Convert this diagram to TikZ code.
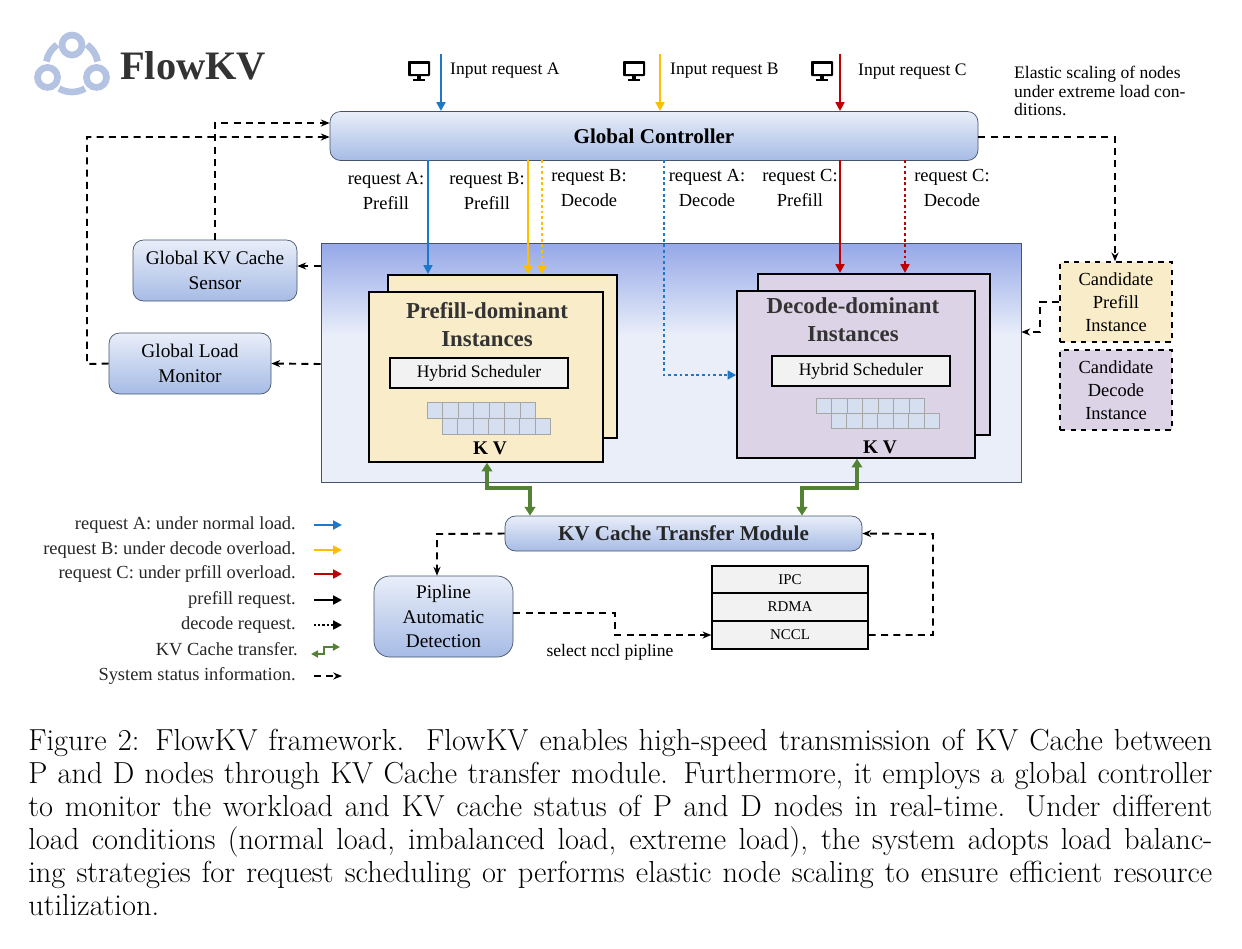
\documentclass[tikz,border=0pt]{standalone}
\usepackage{fontspec}
\setmainfont{Liberation Serif}
\newfontfamily\capfont{Latin Modern Roman}
\usetikzlibrary{arrows.meta,calc}
\definecolor{bA}{HTML}{1F77C8}
\definecolor{yB}{HTML}{FFBF00}
\definecolor{rC}{HTML}{C00000}
\definecolor{gK}{HTML}{548235}
\definecolor{cream}{HTML}{F9ECC8}
\definecolor{lav}{HTML}{DCD3E6}
\definecolor{bord}{HTML}{44546A}
\definecolor{gl}{HTML}{E9EEF9}
\definecolor{gd}{HTML}{A6BBE5}
\definecolor{cellc}{HTML}{D6DFF0}
\definecolor{logoc}{HTML}{B4C3E2}
\tikzset{
 x=0.02cm,y=-0.02cm,
 every node/.style={font=\fontsize{10}{12}\selectfont},
 grad/.style={draw=bord,rounded corners=6pt,top color=gl,bottom color=gd,align=center,inner sep=0pt},
 inst/.style={draw=black,thick,inner sep=0pt},
 hs/.style={draw=black,thick,fill=gray!10,inner sep=0pt},
 cell/.style={draw=gray!70,fill=cellc,minimum width=15.5*0.02cm,minimum height=16*0.02cm,inner sep=0pt},
 req/.style={line width=1.6pt,-{Triangle[length=5pt,width=5pt]}},
 dreq/.style={line width=1.6pt,dash pattern=on 1.6pt off 1.6pt,-{Triangle[length=5pt,width=5pt]}},
 stat/.style={line width=1.1pt,dash pattern=on 4pt off 3pt,-{Stealth[length=5pt,width=4pt]}},
 kv/.style={line width=1.8pt,draw=gK,{Triangle[length=5pt,width=6pt]}-{Triangle[length=5pt,width=6pt]}},
 lbl/.style={align=center,font=\fontsize{10.5}{14}\selectfont},
 cand/.style={draw=black,dashed,thick,inner sep=0pt,align=center,font=\fontsize{10.5}{13}\selectfont},
 stack/.style={draw=black,thick,fill=gray!10,inner sep=0pt,font=\fontsize{8.5}{10}\selectfont},
 legt/.style={anchor=east,text=black!85,font=\fontsize{10.5}{12}\selectfont},
}
\newcommand{\monitor}[1]{%
 \fill[black,rounded corners=0.5pt] ($(#1)+(-11,-9)$) rectangle ($(#1)+(11,6)$);
 \fill[white] ($(#1)+(-8.5,-6.5)$) rectangle ($(#1)+(8.5,3.5)$);
 \fill[black] ($(#1)+(-2,6)$) rectangle ($(#1)+(2,9)$);
 \fill[black] ($(#1)+(-6,9)$) rectangle ($(#1)+(6,11)$);}
\begin{document}
\begin{tikzpicture}
\useasboundingbox (0,0) rectangle (1242,948);
% logo
\begin{scope}[draw=logoc,line width=3.8pt]
\coordinate (lc) at (72,66);
\draw ($(lc)+(-90:21)$) circle (10);
\draw ($(lc)+(155:27)$) circle (10);
\draw ($(lc)+(25:27)$) circle (10);
\draw ($(lc)+(-125:26)$) arc (-125:-170:26);
\draw ($(lc)+(-10:26)$) arc (-10:-55:26);
\draw ($(lc)+(60:26)$) arc (60:120:26);
\end{scope}
\node[font=\bfseries\fontsize{23}{26}\selectfont,text=black!80,anchor=west] (logo) at (114,66) {FlowKV};

% controller
\node[grad,minimum width=648*0.02cm,minimum height=49*0.02cm,font=\bfseries\fontsize{12}{14}\selectfont] (gc) at (654,136) {Global Controller};

% input
\coordinate (iA) at (441,54); \coordinate (iB) at (660,54); \coordinate (iC) at (840,54);
\draw[req,bA] (iA) -- (441,111);
\draw[req,yB] (iB) -- (660,111);
\draw[req,rC] (iC) -- (840,111);
\monitor{419,70} \monitor{634,70} \monitor{822,70}
\node[anchor=west] (tA) at (444,71) {Input request A};
\node[anchor=west] (tB) at (664,71) {Input request B};
\node[anchor=west] (tC) at (852,72) {Input request C};
\node[anchor=north west,align=left,font=\fontsize{10}{10.5}\selectfont] (el) at (1008,60) {Elastic scaling of nodes\\under extreme load con-\\ditions.};

% container
\node[draw=bord,fill=gl,minimum width=700*0.02cm,minimum height=239*0.02cm,inner sep=0pt] (cont) at (671,362.5) {};
\shade[top color=gd!90!blue,bottom color=gl] (321.5,243.5) rectangle (1020.5,335);
\draw[bord] (321,243) rectangle (1021,482);

% prefill instances
\node[inst,fill=cream,minimum width=229*0.02cm,minimum height=163*0.02cm] (pb) at (502.5,356.5) {};
\node[inst,fill=cream,minimum width=234*0.02cm,minimum height=170*0.02cm] (pf) at (486,377) {};
\node[font=\bfseries\fontsize{13}{16}\selectfont,text=black!80,align=center] (pt) at (487,325) {Prefill-dominant\\Instances};
\node[hs,minimum width=178*0.02cm,minimum height=30*0.02cm] (phs) at (479,373) {Hybrid Scheduler};
\foreach \i in {0,...,6}{
 \node[cell] (pa\i) at (435+15.5*\i,410) {};
 \node[cell] (pc\i) at (450+15.5*\i,426) {};}
\node[font=\bfseries\fontsize{11}{13}\selectfont] (pkv) at (490,448) {K V};

% decode instances
\node[inst,fill=lav,minimum width=232*0.02cm,minimum height=161*0.02cm] (db) at (874,354.5) {};
\node[inst,fill=lav,minimum width=238*0.02cm,minimum height=167*0.02cm] (df) at (856,374.5) {};
\node[font=\bfseries\fontsize{13}{16}\selectfont,text=black!80,align=center] (dt) at (853,320) {Decode-dominant\\Instances};
\node[hs,minimum width=178*0.02cm,minimum height=30*0.02cm] (dhs) at (861,371) {Hybrid Scheduler};
\foreach \i in {0,...,6}{
 \node[cell,minimum height=15*0.02cm] (da\i) at (824+15.5*\i,405.5) {};
 \node[cell,minimum height=15*0.02cm] (dc\i) at (839+15.5*\i,420.5) {};}
\node[font=\bfseries\fontsize{11}{13}\selectfont] (dkv) at (880,447) {K V};

% request arrows
\draw[req,bA] (428,160) -- (428,274);
\draw[req,yB] (528,160) -- (528,274);
\draw[dreq,yB] (542,160) -- (542,274);
\draw[dreq,bA] (664,160) -- (664,375) -- (df.west|-664,375);
\draw[req,rC] (840,160) -- (840,273);
\draw[dreq,rC] (905,160) -- (905,273);
\node[lbl] (l1) at (386,191) {request A:\\Prefill};
\node[lbl] (l2) at (487,191) {request B:\\Prefill};
\node[lbl] (l3) at (589,188) {request B:\\Decode};
\node[lbl] (l4) at (707,188) {request A:\\Decode};
\node[lbl] (l5) at (800,188) {request C:\\Prefill};
\node[lbl] (l6) at (952,188) {request C:\\Decode};

% sensors
\node[grad,minimum width=164*0.02cm,minimum height=61*0.02cm,font=\fontsize{11}{14}\selectfont] (sen) at (215,270.5) {Global KV Cache\\Sensor};
\node[grad,minimum width=162*0.02cm,minimum height=61*0.02cm,font=\fontsize{11}{14}\selectfont] (mon) at (190,363.5) {Global Load\\Monitor};
\draw[stat] (cont.west|-0,266) -- (sen.east|-0,266);
\draw[stat] (cont.west|-0,364) -- (mon.east);
\draw[stat] (sen.north) -- (215,123) -- (gc.west|-0,123);
\draw[stat] (mon.west) -- (87,364) -- (87,137) -- (gc.west|-0,137);

% candidates
\node[cand,fill=cream,minimum width=112*0.02cm,minimum height=80*0.02cm] (cp) at (1116,302) {Candidate\\Prefill\\Instance};
\node[cand,fill=lav,minimum width=112*0.02cm,minimum height=80*0.02cm] (cd) at (1116,390) {Candidate\\Decode\\Instance};
\draw[stat] (gc.east|-0,137) -- (1115,137) -- (cp.north-|1115,0);
\draw[stat] (cp.west) -- (1040,302) -- (1040,332) -- (cont.east|-0,332);

% KV module
\node[grad,minimum width=357*0.02cm,minimum height=35*0.02cm,font=\bfseries\fontsize{12}{14}\selectfont,text=black!85] (kvm) at (683.5,533.5) {KV Cache Transfer Module};
\draw[kv] (pf.south-|487,0) -- (487,488) -- (530,488) -- (kvm.north-|530,0);
\draw[kv] (df.south-|857,0) -- (857,488) -- (802,488) -- (kvm.north-|802,0);

% pipeline
\node[grad,rounded corners=9pt,minimum width=139*0.02cm,minimum height=81*0.02cm,font=\fontsize{11}{14}\selectfont] (pad) at (443.5,616.5) {Pipline\\Automatic\\Detection};
\node[stack,minimum width=156*0.02cm,minimum height=27*0.02cm] (ipc) at (790,579.5) {IPC};
\node[stack,minimum width=156*0.02cm,minimum height=28*0.02cm] (rdma) at (790,607) {RDMA};
\node[stack,minimum width=156*0.02cm,minimum height=28*0.02cm] (nccl) at (790,635) {NCCL};
\draw[stat] (kvm.west) -- (437,534) -- (pad.north-|437,0);
\draw[stat] (pad.east|-0,613) -- (615,613) -- (615,635) -- (nccl.west);
\draw[stat] (nccl.east) -- (933,635) -- (933,534) -- (kvm.east);
\node (sel) at (610,652) {select nccl pipline};

% legend
\node[legt] (t1) at (302,525) {request A: under normal load.};
\node[legt] (t2) at (302,550) {request B: under decode overload.};
\node[legt] (t3) at (302,574) {request C: under prfill overload.};
\node[legt] (t4) at (302,600) {prefill request.};
\node[legt] (t5) at (302,625) {decode request.};
\node[legt] (t6) at (304,649) {KV Cache transfer.};
\node[legt] (t7) at (302,676) {System status information.};
\coordinate (a1) at (314,525); \coordinate (b1) at (342,525);
\coordinate (a2) at (314,550); \coordinate (b2) at (342,550);
\coordinate (a3) at (314,574); \coordinate (b3) at (342,574);
\coordinate (a4) at (314,600); \coordinate (b4) at (342,600);
\coordinate (a5) at (314,625); \coordinate (b5) at (342,625);
\coordinate (a7) at (314,676); \coordinate (b7) at (342,676);
\draw[req,bA,line width=1.2pt] (a1) -- (b1);
\draw[req,yB,line width=1.2pt] (a2) -- (b2);
\draw[req,rC,line width=1.2pt] (a3) -- (b3);
\draw[req,black,line width=1.2pt] (a4) -- (b4);
\draw[dreq,black,line width=1.2pt,dash pattern=on 1.2pt off 1.2pt] (a5) -- (b5);
\draw[stat] (a7) -- (b7);
\coordinate (k1) at (311,654); \coordinate (k2) at (340,647);
\draw[kv,line width=1.2pt,{Triangle[length=4pt,width=4pt]}-{Triangle[length=4pt,width=4pt]}] (k1) -- (324,654) -- (324,647) -- (k2);

% caption
\node[anchor=north west,text width=1184*0.02cm,align=justify,inner sep=0pt,font=\capfont\fontsize{17.3}{18.8}\selectfont] (cap) at (28,729) {Figure 2: FlowKV framework.\ \ FlowKV enables high-speed transmission of KV Cache between P and D nodes through KV Cache transfer module. Furthermore, it employs a global controller to monitor the workload and KV cache status of P and D nodes in real-time. Under different load conditions (normal load, imbalanced load, extreme load), the system adopts load balancing strategies for request scheduling or performs elastic node scaling to ensure efficient resource utilization.};
\end{tikzpicture}
\end{document}
